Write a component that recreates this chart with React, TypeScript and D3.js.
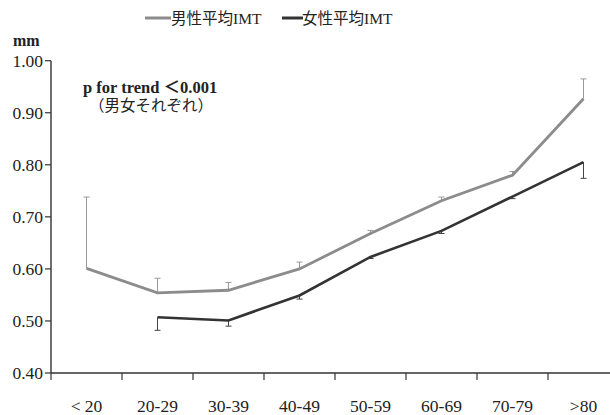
import React from "react";
import * as d3 from "d3";

const categories = ["< 20", "20-29", "30-39", "40-49", "50-59", "60-69", "70-79", ">80"];
const maleMean = [0.601, 0.554, 0.559, 0.6, 0.668, 0.731, 0.78, 0.927];
const maleUpper = [0.738, 0.582, 0.574, 0.613, 0.674, 0.738, 0.787, 0.965];
const femaleMean = [null, 0.507, 0.501, 0.549, 0.623, 0.673, 0.739, 0.805];
const femaleLower = [null, 0.482, 0.49, 0.542, 0.62, 0.668, 0.735, 0.774];
const yTicks = [0.4, 0.5, 0.6, 0.7, 0.8, 0.9, 1.0];

const W = 610;
const H = 415;
const left = 51;
const top = 60.7;
const bottom = 373;

const serif = "'Liberation Serif', 'Noto Sans CJK JP', serif";
const maleColor = "#8c8c8c";
const femaleColor = "#333333";

export default function App() {
  const x = d3.scaleBand<string>().domain(categories).range([left, left + 71 * 8]).padding(0);
  const y = d3.scaleLinear().domain([0.4, 1.0]).range([bottom, top]);
  const cx = (c: string) => (x(c) as number) + x.bandwidth() / 2;

  const line = d3
    .line<[string, number | null]>()
    .defined((d) => d[1] != null)
    .x((d) => cx(d[0]))
    .y((d) => y(d[1] as number));

  const maleData = categories.map((c, i) => [c, maleMean[i]] as [string, number | null]);
  const femaleData = categories.map((c, i) => [c, femaleMean[i]] as [string, number | null]);

  const boundaries = categories.map((c) => x(c) as number);

  return (
    <svg width={W} height={H} style={{ position: "absolute", left: 0, top: 0, background: "#fff" }}>
      <rect width={W} height={H} fill="#fff" />
      {/* legend */}
      <g fontFamily={serif} fontSize={15.5} fill="#222">
        <line x1={145} x2={171} y1={18} y2={18} stroke={maleColor} strokeWidth={3} />
        <text x={171} y={23.5}>男性平均IMT</text>
        <line x1={282} x2={303} y1={18} y2={18} stroke={femaleColor} strokeWidth={3} />
        <text x={302} y={23.5}>女性平均IMT</text>
      </g>
      <text x={13} y={46} fontFamily={serif} fontSize={16} fontWeight="bold" fill="#222">mm</text>
      <text x={83} y={93} fontFamily={serif} fontSize={16.5} fontWeight="bold" fill="#222">p for trend ＜0.001</text>
      <text x={89} y={111} fontFamily={serif} fontSize={15.5} fill="#222">（男女それぞれ）</text>

      {/* y axis */}
      <line x1={left} x2={left} y1={y(1.0)} y2={bottom} stroke="#333" strokeWidth={1.4} />
      {yTicks.map((t) => (
        <g key={t}>
          <line x1={left - 6} x2={left} y1={y(t)} y2={y(t)} stroke="#333" strokeWidth={1.2} />
          <text x={43} y={y(t) + 6} textAnchor="end" fontFamily={serif} fontSize={17.5} fill="#222">
            {t.toFixed(2)}
          </text>
        </g>
      ))}

      {/* x axis */}
      <line x1={left} x2={W} y1={bottom} y2={bottom} stroke="#333" strokeWidth={1.4} />
      {boundaries.map((b) => (
        <line key={b} x1={b} x2={b} y1={bottom} y2={bottom + 7} stroke="#333" strokeWidth={1.2} />
      ))}
      {categories.map((c) => (
        <text key={c} x={cx(c)} y={412} textAnchor="middle" fontFamily={serif} fontSize={17.5} fill="#222">
          {c}
        </text>
      ))}

      {/* male error bars */}
      {categories.map((c, i) => (
        <g key={"me" + c} stroke="#999" strokeWidth={1}>
          <line x1={cx(c)} x2={cx(c)} y1={y(maleMean[i])} y2={y(maleUpper[i])} />
          <line x1={cx(c) - 3} x2={cx(c) + 3} y1={y(maleUpper[i])} y2={y(maleUpper[i])} />
        </g>
      ))}
      {/* female error bars */}
      {categories.map((c, i) =>
        femaleMean[i] == null ? null : (
          <g key={"fe" + c} stroke="#444" strokeWidth={1}>
            <line x1={cx(c)} x2={cx(c)} y1={y(femaleMean[i] as number)} y2={y(femaleLower[i] as number)} />
            <line
              x1={cx(c) - 3}
              x2={cx(c) + 3}
              y1={y(femaleLower[i] as number)}
              y2={y(femaleLower[i] as number)}
            />
          </g>
        )
      )}

      <path d={line(maleData) as string} fill="none" stroke={maleColor} strokeWidth={2.8} />
      <path d={line(femaleData) as string} fill="none" stroke={femaleColor} strokeWidth={2.6} />
    </svg>
  );
}
